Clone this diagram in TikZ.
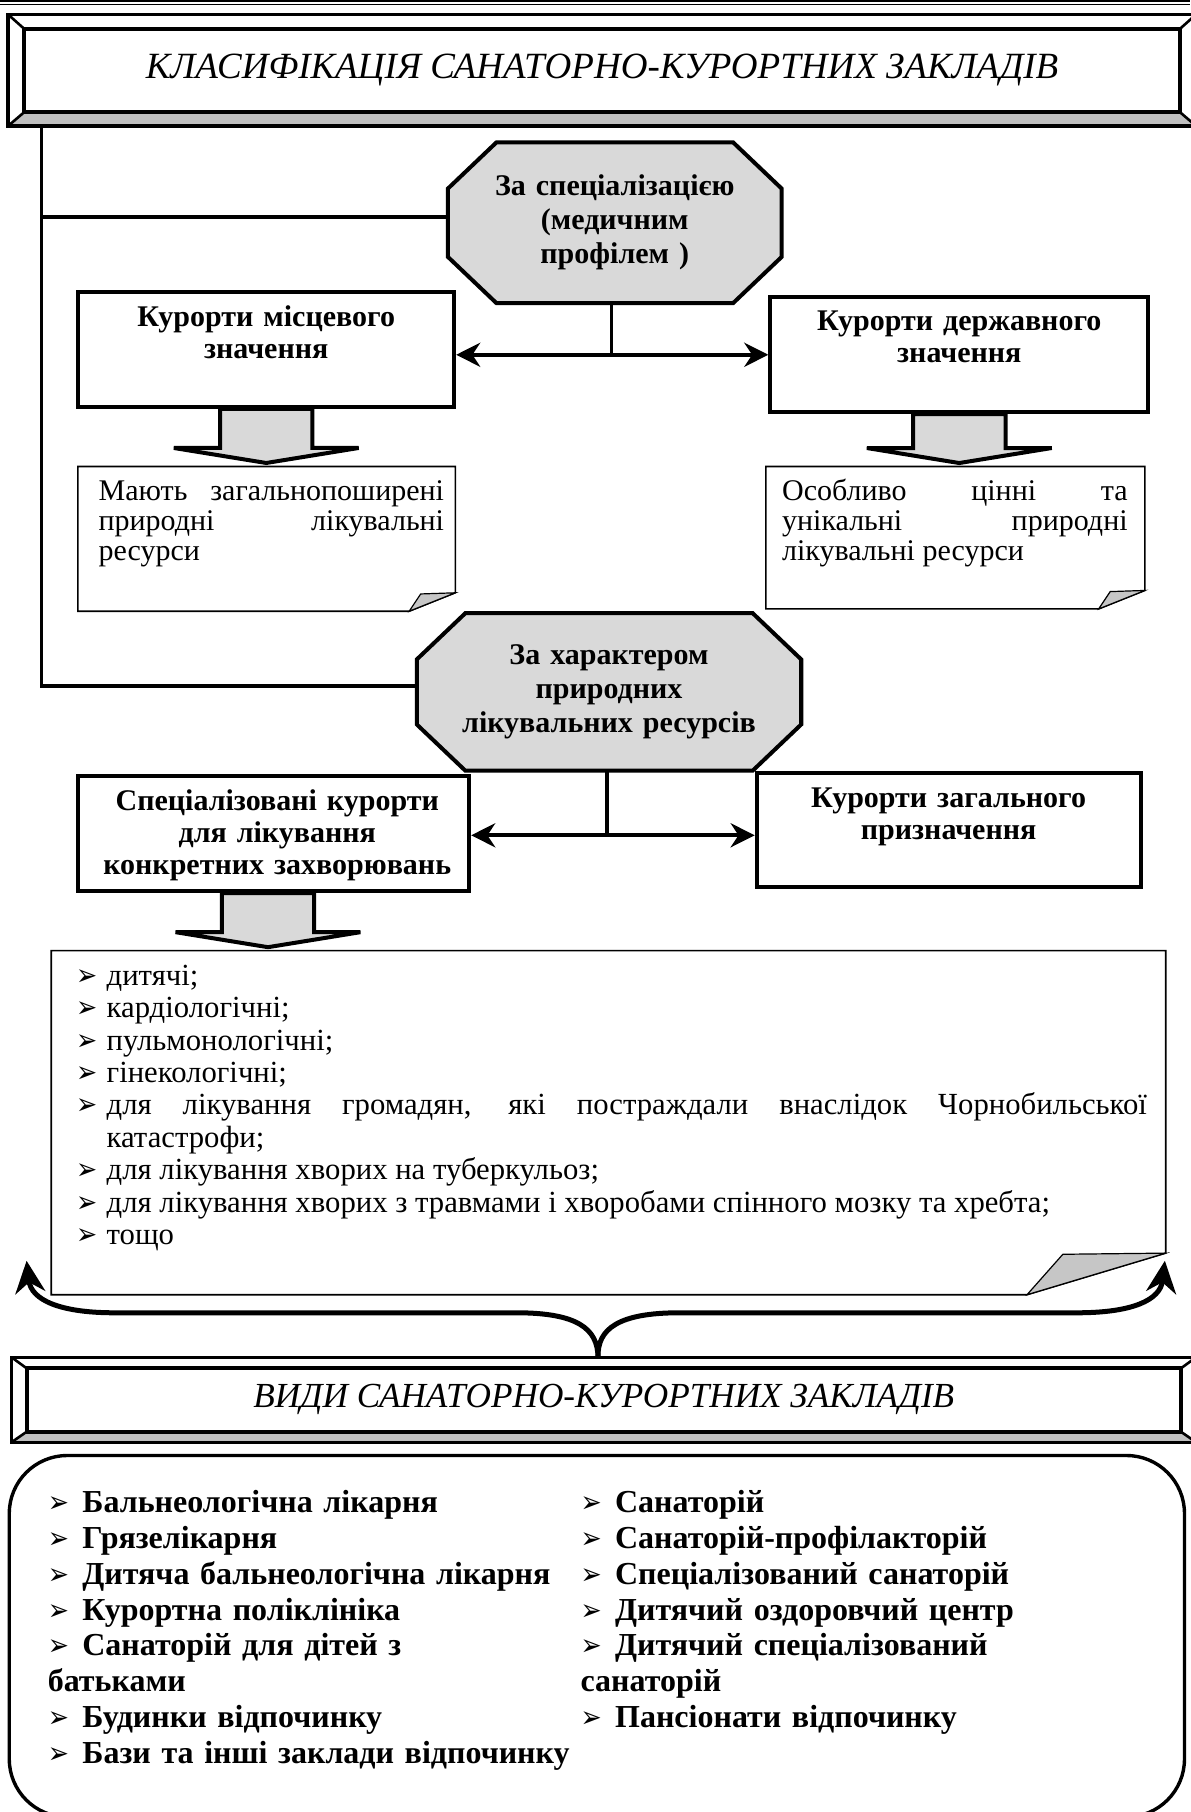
\documentclass[tikz,border=0pt]{standalone}
\usepackage{fontspec}
\setmainfont{Liberation Serif}
\newfontfamily\dejavu{DejaVu Sans}
\usetikzlibrary{arrows.meta,calc,backgrounds}

\newcommand{\pnt}{\scalebox{1.15}[1.35]{\dejavu\fontsize{11}{11}\selectfont ➢}}
\newcommand{\litem}[1]{\hangindent=15pt\hangafter=1\noindent\makebox[15pt][l]{\pnt}#1\par}

\begin{document}
\begin{tikzpicture}[x=0.5777pt, y=-0.5777pt,
	link/.style={line width=1.7pt},
	dblarrow/.style={line width=2pt, {Stealth[length=12pt,width=12pt]}-{Stealth[length=12pt,width=12pt]}},
	box/.style={draw, line width=2pt, inner sep=0pt},
	boxtext/.style={font=\fontsize{15}{16}\selectfont\bfseries, text width=190pt, align=center, inner sep=0pt, anchor=base},
	octa/.style={draw, line width=2pt, fill=gray!30},
	octtext/.style={font=\fontsize{15}{17}\selectfont\bfseries, align=center, inner sep=0pt},
	notebox/.style={line width=0.8pt},
	fold/.style={draw, fill=gray!45, line width=0.6pt},
	notetext/.style={font=\fontsize{15}{15}\selectfont, text width=172.7pt, align=justify, inner sep=0pt, anchor=base west},
	blockarrow/.style={draw, fill=gray!30, line width=2pt},
	brace/.style={line width=2.5pt, -{Stealth[length=16pt,width=15pt]}},
	titletext/.style={font=\fontsize{18.5}{20}\selectfont\itshape, inner sep=0pt},
	frameline/.style={line width=1.6pt},
	listtext/.style={font=\fontsize{15.35}{16.2}\selectfont, text width=535pt, align=justify, inner sep=0pt, anchor=base west},
	kindtext/.style={font=\fontsize{16}{17.9}\selectfont\bfseries, text width=280pt, align=left, inner sep=0pt, anchor=base west}]
	\useasboundingbox (0,0) rectangle (1030,1568);
	\draw[line width=1.2pt] (0,0.6) -- (1030,0.6);
	\draw[line width=0.6pt] (0,3.8) -- (1030,3.8);
	% title frames
	\fill[gray!50] (7,109) -- (21,97) -- (1021,97) -- (1035,109) -- cycle;
	\draw[frameline] (7,12.5) rectangle (1035,109);
	\draw[line width=2pt] (21,25) rectangle (1021,97);
	\draw[line width=1.3pt] (7,12.5) -- (21,25) (7,109) -- (21,97) (1035,12.5) -- (1021,25) (1035,109) -- (1021,97);
	\node[titletext, minimum width=593.9pt, minimum height=55.7pt] (title) at (521,60.75) {КЛАСИФІКАЦІЯ САНАТОРНО-КУРОРТНИХ ЗАКЛАДІВ};
	\fill[gray!50] (10,1248) -- (23,1239) -- (1022,1239) -- (1035,1248) -- cycle;
	\draw[frameline] (10,1174.5) rectangle (1035,1248);
	\draw[line width=2pt] (23,1184) rectangle (1022,1239);
	\draw[line width=1.3pt] (10,1174.5) -- (23,1184) (10,1248) -- (23,1239) (1035,1174.5) -- (1022,1184) (1035,1248) -- (1022,1239);
	\node[titletext, font=\fontsize{17.6}{20}\selectfont\itshape, minimum width=592.1pt, minimum height=42.5pt] (vtitle) at (522.5,1211.25) {ВИДИ САНАТОРНО-КУРОРТНИХ ЗАКЛАДІВ};

	% octagons
	\node[octtext, text width=160pt, minimum width=166.4pt, minimum height=80pt] (o1) at (532,192.75) {За спеціалізацією\\(медичним\\профілем )};
	\node[octtext, text width=185pt, minimum width=191.8pt, minimum height=78.3pt] (o2) at (527,598.75) {За характером\\природних\\лікувальних ресурсів};
	\begin{pgfonlayer}{background}
	\foreach \o in {o1,o2}
		\draw[octa] ($(\o.north west)+(42,0)$) -- ($(\o.north east)+(-42,0)$) -- ($(\o.north east)+(0,40)$) -- ($(\o.south east)+(0,-40)$) -- ($(\o.south east)+(-42,0)$) -- ($(\o.south west)+(42,0)$) -- ($(\o.south west)+(0,-40)$) -- ($(\o.north west)+(0,40)$) -- cycle;
	\end{pgfonlayer}

	% boxes
	\node[box, minimum width=187.9pt, minimum height=57.2pt] (local) at (230.4,302.5) {};
	\node[boxtext] (localtxt) at ($(local.north)+(0,31)$) {Курорти місцевого\\значення};
	\node[box, minimum width=188.9pt, minimum height=57.5pt] (state) at (830.1,306.8) {};
	\node[boxtext] (statetxt) at ($(state.north)+(0,31)$) {Курорти державного\\значення};
	\node[box, minimum width=195.4pt, minimum height=57.4pt] (special) at (236.9,721.4) {};
	\node[boxtext] (specialtxt) at ($(special.north)+(3,31)$) {Спеціалізовані курорти\\для лікування\\конкретних захворювань};
	\node[box, minimum width=191.9pt, minimum height=57.1pt] (general) at (820.9,718.4) {};
	\node[boxtext] (generaltxt) at ($(general.north)+(0,31.5)$) {Курорти загального\\призначення};

	% notes
	\node[minimum width=188.3pt, minimum height=72pt] (lnote) at (230.7,466.3) {};
	\node[minimum width=189.1pt, minimum height=70.8pt] (snote) at (826.7,465.3) {};
	\node[minimum width=556.7pt, minimum height=171.6pt] (bignote) at (526.55,971.5) {};
	\foreach \n/\w/\h/\f in {lnote/40/16/10, snote/40/16/10, bignote/120/36/31} {
		\draw[notebox] (\n.south west) -- (\n.north west) -- (\n.north east) -- ($(\n.south east)+(0,-\h)$) -- ($(\n.south east)+(-\w,0)$) -- cycle;
		\draw[fold] ($(\n.south east)+(-\w,0)$) -- ($(\n.south east)+(\f-\w,1-\h)$) -- ($(\n.south east)+(0,-\h)$) -- cycle;
	}
	\node[notetext] (lnotetxt) at (85,433) {Мають загальнопоширені\linebreak природні лікувальні\linebreak ресурси};
	\node[notetext] (snotetxt) at (676.5,433) {Особливо цінні та\linebreak унікальні природні\linebreak лікувальні ресурси};
	\node[listtext] (listtxt) at (66,852.6) {\litem{дитячі;}
		\litem{кардіологічні;}
		\litem{пульмонологічні;}
		\litem{гінекологічні;}
		\litem{для лікування громадян, які постраждали внаслідок Чорнобильської\linebreak катастрофи;}
		\litem{для лікування хворих на туберкульоз;}
		\litem{для лікування хворих з травмами і хворобами спінного мозку та хребта;}
		\litem{тощо}};

	% connectors
	\coordinate (lft) at (36,0);
	\coordinate (h1) at ($(o1.west)+(0,-5)$);
	\coordinate (h2) at ($(o2.west)+(0,-5)$);
	\draw[link] (title.south -| lft) -- (lft |- h2) -- (h2);
	\draw[link] (lft |- h1) -- (h1);
	\coordinate (j1) at (529,307);
	\coordinate (j2) at (525.4,722.8);
	\draw[link] (j1 |- o1.south) -- (j1);
	\draw[dblarrow] (local.east |- j1) -- (state.west |- j1);
	\draw[link] (j2 |- o2.south) -- (j2);
	\draw[dblarrow] (special.east |- j2) -- (general.west |- j2);
	\foreach \a/\b/\s in {local/lnote/0, state/snote/0, special/bignote/-5}
		\draw[blockarrow] ($(\a.south)+(\s-40,0)$) -- ($(\a.south |- \b.north)+(\s-40,-16)$) -- ($(\a.south |- \b.north)+(\s-80,-16)$) -- ($(\a.south |- \b.north)+(\s,-3)$) -- ($(\a.south |- \b.north)+(\s+80,-16)$) -- ($(\a.south |- \b.north)+(\s+40,-16)$) -- ($(\a.south)+(\s+40,0)$) -- cycle;

	% brace
	\coordinate (tipl) at (23,1091);
	\coordinate (tipr) at (1008,1091);
	\draw[brace] ($(vtitle.north)+(-5,0)$) .. controls (517,1150) and (500,1136) .. (447,1136) -- (99,1136) .. controls (52,1136) and (27,1125) .. (tipl);
	\draw[brace] ($(vtitle.north)+(-5,0)$) .. controls (517,1150) and (535,1136) .. (588,1136) -- (932,1136) .. controls (980,1136) and (1004,1125) .. (tipr);

	% kinds
	\node[draw, line width=1.7pt, rounded corners=29pt, minimum width=587.5pt, minimum height=180.7pt] (kinds) at (516.5,1415.9) {};
	\node[kindtext] (kindsl) at (41,1309) {\makebox[17.3pt][l]{\pnt}Бальнеологічна лікарня\\
		\makebox[17.3pt][l]{\pnt}Грязелікарня\\
		\makebox[17.3pt][l]{\pnt}Дитяча бальнеологічна лікарня\\
		\makebox[17.3pt][l]{\pnt}Курортна поліклініка\\
		\makebox[17.3pt][l]{\pnt}Санаторій для дітей з\\
		батьками\\
		\makebox[17.3pt][l]{\pnt}Будинки відпочинку\\
		\makebox[17.3pt][l]{\pnt}Бази та інші заклади відпочинку};
	\node[kindtext] (kindsr) at (502,1309) {\makebox[17.3pt][l]{\pnt}Санаторій\\
		\makebox[17.3pt][l]{\pnt}Санаторій-профілакторій\\
		\makebox[17.3pt][l]{\pnt}Спеціалізований санаторій\\
		\makebox[17.3pt][l]{\pnt}Дитячий оздоровчий центр\\
		\makebox[17.3pt][l]{\pnt}Дитячий спеціалізований\\
		санаторій\\
		\makebox[17.3pt][l]{\pnt}Пансіонати відпочинку};
\end{tikzpicture}
\end{document}
